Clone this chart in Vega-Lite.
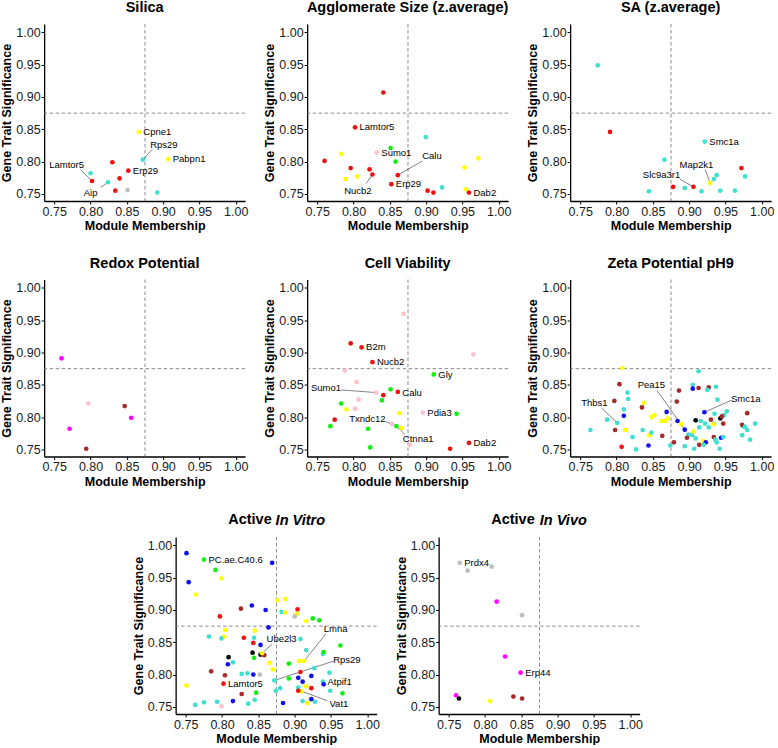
{
"$schema": "https://vega.github.io/schema/vega-lite/v6.json",
"padding": {"left": 0, "top": 0, "right": 0, "bottom": 0},
"datasets": {
"pts": [
{"p":"S","m":"yellow","mm":0.8665,"gs":0.846},{"p":"S","m":"turquoise","mm":0.872,"gs":0.803},{"p":"S","m":"yellow","mm":0.907,"gs":0.804},{"p":"S","m":"red","mm":0.830,"gs":0.799},{"p":"S","m":"red","mm":0.852,"gs":0.786},{"p":"S","m":"turquoise","mm":0.800,"gs":0.782},{"p":"S","m":"red","mm":0.802,"gs":0.770},{"p":"S","m":"red","mm":0.840,"gs":0.774},{"p":"S","m":"turquoise","mm":0.824,"gs":0.768},{"p":"S","m":"red","mm":0.834,"gs":0.755},{"p":"S","m":"grey","mm":0.851,"gs":0.756},{"p":"S","m":"turquoise","mm":0.892,"gs":0.752},
{"p":"A","m":"red","mm":0.841,"gs":0.907},{"p":"A","m":"red","mm":0.802,"gs":0.853},{"p":"A","m":"turquoise","mm":0.8995,"gs":0.838},{"p":"A","m":"green","mm":0.851,"gs":0.821},{"p":"A","m":"pink","mm":0.832,"gs":0.814},{"p":"A","m":"green","mm":0.858,"gs":0.800},{"p":"A","m":"yellow","mm":0.783,"gs":0.812},{"p":"A","m":"red","mm":0.760,"gs":0.801},{"p":"A","m":"red","mm":0.796,"gs":0.790},{"p":"A","m":"red","mm":0.822,"gs":0.788},{"p":"A","m":"red","mm":0.826,"gs":0.780},{"p":"A","m":"yellow","mm":0.789,"gs":0.773},{"p":"A","m":"yellow","mm":0.805,"gs":0.777},{"p":"A","m":"red","mm":0.861,"gs":0.779},{"p":"A","m":"red","mm":0.852,"gs":0.765},{"p":"A","m":"red","mm":0.902,"gs":0.755},{"p":"A","m":"red","mm":0.910,"gs":0.752},{"p":"A","m":"turquoise","mm":0.922,"gs":0.760},{"p":"A","m":"yellow","mm":0.953,"gs":0.791},{"p":"A","m":"yellow","mm":0.972,"gs":0.805},{"p":"A","m":"yellow","mm":0.955,"gs":0.757},{"p":"A","m":"red","mm":0.959,"gs":0.752},
{"p":"SA","m":"turquoise","mm":0.774,"gs":0.949},{"p":"SA","m":"red","mm":0.791,"gs":0.846},{"p":"SA","m":"turquoise","mm":0.9216,"gs":0.831},{"p":"SA","m":"turquoise","mm":0.866,"gs":0.803},{"p":"SA","m":"red","mm":0.972,"gs":0.790},{"p":"SA","m":"turquoise","mm":0.977,"gs":0.777},{"p":"SA","m":"turquoise","mm":0.938,"gs":0.779},{"p":"SA","m":"turquoise","mm":0.934,"gs":0.773},{"p":"SA","m":"yellow","mm":0.929,"gs":0.767},{"p":"SA","m":"red","mm":0.906,"gs":0.761},{"p":"SA","m":"red","mm":0.878,"gs":0.761},{"p":"SA","m":"turquoise","mm":0.894,"gs":0.759},{"p":"SA","m":"turquoise","mm":0.917,"gs":0.754},{"p":"SA","m":"turquoise","mm":0.943,"gs":0.755},{"p":"SA","m":"turquoise","mm":0.963,"gs":0.755},{"p":"SA","m":"turquoise","mm":0.8445,"gs":0.754},
{"p":"R","m":"magenta","mm":0.760,"gs":0.891},{"p":"R","m":"pink","mm":0.797,"gs":0.821},{"p":"R","m":"brown","mm":0.847,"gs":0.817},{"p":"R","m":"magenta","mm":0.856,"gs":0.799},{"p":"R","m":"magenta","mm":0.771,"gs":0.782},{"p":"R","m":"brown","mm":0.794,"gs":0.751},
{"p":"C","m":"pink","mm":0.869,"gs":0.960},{"p":"C","m":"red","mm":0.796,"gs":0.914},{"p":"C","m":"red","mm":0.811,"gs":0.908},{"p":"C","m":"red","mm":0.826,"gs":0.885},{"p":"C","m":"pink","mm":0.965,"gs":0.897},{"p":"C","m":"pink","mm":0.788,"gs":0.872},{"p":"C","m":"green","mm":0.9105,"gs":0.866},{"p":"C","m":"pink","mm":0.804,"gs":0.854},{"p":"C","m":"pink","mm":0.831,"gs":0.838},{"p":"C","m":"red","mm":0.841,"gs":0.834},{"p":"C","m":"green","mm":0.851,"gs":0.843},{"p":"C","m":"red","mm":0.861,"gs":0.839},{"p":"C","m":"green","mm":0.839,"gs":0.826},{"p":"C","m":"pink","mm":0.807,"gs":0.827},{"p":"C","m":"green","mm":0.783,"gs":0.821},{"p":"C","m":"pink","mm":0.802,"gs":0.813},{"p":"C","m":"yellow","mm":0.790,"gs":0.812},{"p":"C","m":"yellow","mm":0.863,"gs":0.806},{"p":"C","m":"pink","mm":0.8955,"gs":0.807},{"p":"C","m":"green","mm":0.942,"gs":0.805},{"p":"C","m":"red","mm":0.774,"gs":0.796},{"p":"C","m":"pink","mm":0.853,"gs":0.789},{"p":"C","m":"yellow","mm":0.866,"gs":0.783},{"p":"C","m":"green","mm":0.859,"gs":0.786},{"p":"C","m":"green","mm":0.768,"gs":0.786},{"p":"C","m":"green","mm":0.820,"gs":0.782},{"p":"C","m":"green","mm":0.823,"gs":0.753},{"p":"C","m":"pink","mm":0.877,"gs":0.757},{"p":"C","m":"red","mm":0.933,"gs":0.751},{"p":"C","m":"red","mm":0.959,"gs":0.760},
{"p":"Z","m":"yellow","mm":0.808,"gs":0.876},{"p":"Z","m":"turquoise","mm":0.913,"gs":0.871},{"p":"Z","m":"brown","mm":0.804,"gs":0.851},{"p":"Z","m":"turquoise","mm":0.905,"gs":0.850},{"p":"Z","m":"blue","mm":0.905,"gs":0.844},{"p":"Z","m":"brown","mm":0.913,"gs":0.845},{"p":"Z","m":"brown","mm":0.927,"gs":0.846},{"p":"Z","m":"turquoise","mm":0.937,"gs":0.847},{"p":"Z","m":"turquoise","mm":0.815,"gs":0.838},{"p":"Z","m":"brown","mm":0.886,"gs":0.841},{"p":"Z","m":"turquoise","mm":0.925,"gs":0.842},{"p":"Z","m":"turquoise","mm":0.816,"gs":0.828},{"p":"Z","m":"brown","mm":0.797,"gs":0.825},{"p":"Z","m":"brown","mm":0.883,"gs":0.824},{"p":"Z","m":"turquoise","mm":0.939,"gs":0.827},{"p":"Z","m":"blue","mm":0.921,"gs":0.8075},{"p":"Z","m":"yellow","mm":0.838,"gs":0.822},{"p":"Z","m":"brown","mm":0.835,"gs":0.815},{"p":"Z","m":"turquoise","mm":0.810,"gs":0.812},{"p":"Z","m":"blue","mm":0.869,"gs":0.808},{"p":"Z","m":"yellow","mm":0.852,"gs":0.803},{"p":"Z","m":"yellow","mm":0.848,"gs":0.800},{"p":"Z","m":"blue","mm":0.810,"gs":0.802},{"p":"Z","m":"yellow","mm":0.870,"gs":0.798},{"p":"Z","m":"yellow","mm":0.867,"gs":0.794},{"p":"Z","m":"yellow","mm":0.862,"gs":0.794},{"p":"Z","m":"turquoise","mm":0.787,"gs":0.796},{"p":"Z","m":"turquoise","mm":0.801,"gs":0.791},{"p":"Z","m":"blue","mm":0.884,"gs":0.794},{"p":"Z","m":"yellow","mm":0.889,"gs":0.789},{"p":"Z","m":"blue","mm":0.894,"gs":0.7806},{"p":"Z","m":"black","mm":0.909,"gs":0.795},{"p":"Z","m":"turquoise","mm":0.916,"gs":0.794},{"p":"Z","m":"brown","mm":0.930,"gs":0.796},{"p":"Z","m":"turquoise","mm":0.935,"gs":0.805},{"p":"Z","m":"turquoise","mm":0.952,"gs":0.809},{"p":"Z","m":"turquoise","mm":0.948,"gs":0.803},{"p":"Z","m":"black","mm":0.943,"gs":0.798},{"p":"Z","m":"brown","mm":0.945,"gs":0.801},{"p":"Z","m":"brown","mm":0.980,"gs":0.806},{"p":"Z","m":"turquoise","mm":0.922,"gs":0.790},{"p":"Z","m":"brown","mm":0.947,"gs":0.790},{"p":"Z","m":"turquoise","mm":0.927,"gs":0.784},{"p":"Z","m":"turquoise","mm":0.9345,"gs":0.790},{"p":"Z","m":"yellow","mm":0.934,"gs":0.789},{"p":"Z","m":"turquoise","mm":0.974,"gs":0.786},{"p":"Z","m":"brown","mm":0.973,"gs":0.788},{"p":"Z","m":"turquoise","mm":0.977,"gs":0.785},{"p":"Z","m":"turquoise","mm":0.991,"gs":0.790},{"p":"Z","m":"turquoise","mm":0.980,"gs":0.780},{"p":"Z","m":"turquoise","mm":0.973,"gs":0.772},{"p":"Z","m":"turquoise","mm":0.984,"gs":0.765},{"p":"Z","m":"turquoise","mm":0.764,"gs":0.780},{"p":"Z","m":"brown","mm":0.798,"gs":0.780},{"p":"Z","m":"yellow","mm":0.812,"gs":0.780},{"p":"Z","m":"turquoise","mm":0.836,"gs":0.780},{"p":"Z","m":"yellow","mm":0.845,"gs":0.772},{"p":"Z","m":"turquoise","mm":0.848,"gs":0.776},{"p":"Z","m":"brown","mm":0.863,"gs":0.771},{"p":"Z","m":"turquoise","mm":0.822,"gs":0.769},{"p":"Z","m":"turquoise","mm":0.914,"gs":0.784},{"p":"Z","m":"turquoise","mm":0.899,"gs":0.773},{"p":"Z","m":"turquoise","mm":0.904,"gs":0.772},{"p":"Z","m":"brown","mm":0.897,"gs":0.768},{"p":"Z","m":"yellow","mm":0.906,"gs":0.778},{"p":"Z","m":"turquoise","mm":0.909,"gs":0.767},{"p":"Z","m":"yellow","mm":0.919,"gs":0.763},{"p":"Z","m":"blue","mm":0.923,"gs":0.761},{"p":"Z","m":"brown","mm":0.914,"gs":0.757},{"p":"Z","m":"turquoise","mm":0.920,"gs":0.757},{"p":"Z","m":"brown","mm":0.934,"gs":0.769},{"p":"Z","m":"turquoise","mm":0.936,"gs":0.765},{"p":"Z","m":"turquoise","mm":0.938,"gs":0.761},{"p":"Z","m":"blue","mm":0.944,"gs":0.768},{"p":"Z","m":"turquoise","mm":0.947,"gs":0.769},{"p":"Z","m":"turquoise","mm":0.942,"gs":0.751},{"p":"Z","m":"turquoise","mm":0.907,"gs":0.751},{"p":"Z","m":"brown","mm":0.879,"gs":0.761},{"p":"Z","m":"turquoise","mm":0.874,"gs":0.756},{"p":"Z","m":"turquoise","mm":0.894,"gs":0.755},{"p":"Z","m":"blue","mm":0.844,"gs":0.756},{"p":"Z","m":"turquoise","mm":0.827,"gs":0.750},{"p":"Z","m":"red","mm":0.807,"gs":0.754},
{"p":"V","m":"blue","mm":0.751,"gs":0.988},{"p":"V","m":"green","mm":0.775,"gs":0.978},{"p":"V","m":"blue","mm":0.869,"gs":0.973},{"p":"V","m":"green","mm":0.791,"gs":0.962},{"p":"V","m":"yellow","mm":0.799,"gs":0.949},{"p":"V","m":"blue","mm":0.754,"gs":0.943},{"p":"V","m":"yellow","mm":0.764,"gs":0.924},{"p":"V","m":"yellow","mm":0.876,"gs":0.915},{"p":"V","m":"yellow","mm":0.887,"gs":0.917},{"p":"V","m":"brown","mm":0.826,"gs":0.902},{"p":"V","m":"blue","mm":0.841,"gs":0.907},{"p":"V","m":"blue","mm":0.860,"gs":0.900},{"p":"V","m":"turquoise","mm":0.882,"gs":0.897},{"p":"V","m":"yellow","mm":0.887,"gs":0.896},{"p":"V","m":"red","mm":0.904,"gs":0.901},{"p":"V","m":"yellow","mm":0.903,"gs":0.894},{"p":"V","m":"grey","mm":0.900,"gs":0.890},{"p":"V","m":"red","mm":0.797,"gs":0.890},{"p":"V","m":"yellow","mm":0.916,"gs":0.883},{"p":"V","m":"green","mm":0.925,"gs":0.887},{"p":"V","m":"green","mm":0.934,"gs":0.884},{"p":"V","m":"blue","mm":0.864,"gs":0.873},{"p":"V","m":"yellow","mm":0.804,"gs":0.869},{"p":"V","m":"yellow","mm":0.845,"gs":0.868},{"p":"V","m":"turquoise","mm":0.782,"gs":0.859},{"p":"V","m":"yellow","mm":0.803,"gs":0.859},{"p":"V","m":"turquoise","mm":0.799,"gs":0.856},{"p":"V","m":"red","mm":0.830,"gs":0.857},{"p":"V","m":"turquoise","mm":0.844,"gs":0.857},{"p":"V","m":"red","mm":0.843,"gs":0.849},{"p":"V","m":"turquoise","mm":0.908,"gs":0.855},{"p":"V","m":"blue","mm":0.853,"gs":0.846},{"p":"V","m":"green","mm":0.963,"gs":0.845},{"p":"V","m":"turquoise","mm":0.916,"gs":0.838},{"p":"V","m":"black","mm":0.842,"gs":0.834},{"p":"V","m":"black","mm":0.809,"gs":0.827},{"p":"V","m":"black","mm":0.853,"gs":0.831},{"p":"V","m":"brown","mm":0.858,"gs":0.830},{"p":"V","m":"green","mm":0.844,"gs":0.826},{"p":"V","m":"yellow","mm":0.855,"gs":0.833},{"p":"V","m":"turquoise","mm":0.939,"gs":0.832},{"p":"V","m":"green","mm":0.940,"gs":0.835},{"p":"V","m":"yellow","mm":0.906,"gs":0.821},{"p":"V","m":"yellow","mm":0.913,"gs":0.821},{"p":"V","m":"turquoise","mm":0.815,"gs":0.819},{"p":"V","m":"blue","mm":0.808,"gs":0.816},{"p":"V","m":"yellow","mm":0.866,"gs":0.818},{"p":"V","m":"green","mm":0.892,"gs":0.817},{"p":"V","m":"yellow","mm":0.870,"gs":0.808},{"p":"V","m":"turquoise","mm":0.927,"gs":0.810},{"p":"V","m":"red","mm":0.908,"gs":0.804},{"p":"V","m":"brown","mm":0.785,"gs":0.805},{"p":"V","m":"brown","mm":0.804,"gs":0.799},{"p":"V","m":"turquoise","mm":0.827,"gs":0.801},{"p":"V","m":"turquoise","mm":0.835,"gs":0.802},{"p":"V","m":"blue","mm":0.843,"gs":0.800},{"p":"V","m":"grey","mm":0.852,"gs":0.800},{"p":"V","m":"blue","mm":0.905,"gs":0.795},{"p":"V","m":"blue","mm":0.923,"gs":0.798},{"p":"V","m":"turquoise","mm":0.948,"gs":0.803},{"p":"V","m":"green","mm":0.892,"gs":0.794},{"p":"V","m":"red","mm":0.802,"gs":0.786},{"p":"V","m":"turquoise","mm":0.872,"gs":0.791},{"p":"V","m":"blue","mm":0.911,"gs":0.789},{"p":"V","m":"turquoise","mm":0.939,"gs":0.789},{"p":"V","m":"blue","mm":0.940,"gs":0.785},{"p":"V","m":"yellow","mm":0.751,"gs":0.783},{"p":"V","m":"turquoise","mm":0.905,"gs":0.780},{"p":"V","m":"yellow","mm":0.916,"gs":0.782},{"p":"V","m":"red","mm":0.923,"gs":0.779},{"p":"V","m":"yellow","mm":0.910,"gs":0.774},{"p":"V","m":"red","mm":0.905,"gs":0.775},{"p":"V","m":"turquoise","mm":0.880,"gs":0.779},{"p":"V","m":"turquoise","mm":0.874,"gs":0.775},{"p":"V","m":"turquoise","mm":0.949,"gs":0.775},{"p":"V","m":"green","mm":0.966,"gs":0.771},{"p":"V","m":"green","mm":0.847,"gs":0.772},{"p":"V","m":"brown","mm":0.827,"gs":0.770},{"p":"V","m":"turquoise","mm":0.911,"gs":0.759},{"p":"V","m":"blue","mm":0.923,"gs":0.762},{"p":"V","m":"turquoise","mm":0.928,"gs":0.758},{"p":"V","m":"yellow","mm":0.917,"gs":0.756},{"p":"V","m":"turquoise","mm":0.845,"gs":0.761},{"p":"V","m":"blue","mm":0.815,"gs":0.759},{"p":"V","m":"turquoise","mm":0.793,"gs":0.758},{"p":"V","m":"turquoise","mm":0.775,"gs":0.757},{"p":"V","m":"turquoise","mm":0.763,"gs":0.753},{"p":"V","m":"pink","mm":0.799,"gs":0.751},{"p":"V","m":"turquoise","mm":0.836,"gs":0.755},{"p":"V","m":"blue","mm":0.884,"gs":0.756},
{"p":"I","m":"grey","mm":0.765,"gs":0.973},{"p":"I","m":"grey","mm":0.776,"gs":0.961},{"p":"I","m":"grey","mm":0.809,"gs":0.967},{"p":"I","m":"magenta","mm":0.816,"gs":0.913},{"p":"I","m":"grey","mm":0.851,"gs":0.892},{"p":"I","m":"magenta","mm":0.8275,"gs":0.828},{"p":"I","m":"magenta","mm":0.849,"gs":0.803},{"p":"I","m":"magenta","mm":0.760,"gs":0.768},{"p":"I","m":"black","mm":0.764,"gs":0.763},{"p":"I","m":"yellow","mm":0.807,"gs":0.759},{"p":"I","m":"brown","mm":0.839,"gs":0.766},{"p":"I","m":"brown","mm":0.851,"gs":0.763}
],
"near": [
{"p":"S","gene":"Cpne1","mm":0.8665,"gs":0.846},{"p":"S","gene":"Pabpn1","mm":0.907,"gs":0.804},{"p":"S","gene":"Erp29","mm":0.852,"gs":0.786},
{"p":"A","gene":"Lamtor5","mm":0.802,"gs":0.853},{"p":"A","gene":"Sumo1","mm":0.832,"gs":0.814},{"p":"A","gene":"Erp29","mm":0.852,"gs":0.765},{"p":"A","gene":"Dab2","mm":0.959,"gs":0.751},
{"p":"SA","gene":"Smc1a","mm":0.9216,"gs":0.830},
{"p":"C","gene":"B2m","mm":0.811,"gs":0.908},{"p":"C","gene":"Nucb2","mm":0.826,"gs":0.885},{"p":"C","gene":"Gly","mm":0.9105,"gs":0.865},{"p":"C","gene":"Calu","mm":0.861,"gs":0.838},{"p":"C","gene":"Pdia3","mm":0.8955,"gs":0.806},{"p":"C","gene":"Dab2","mm":0.959,"gs":0.760},
{"p":"V","gene":"PC.ae.C40.6","mm":0.775,"gs":0.978},{"p":"V","gene":"Lamtor5","mm":0.802,"gs":0.785},{"p":"V","gene":"Atpif1","mm":0.939,"gs":0.789},
{"p":"I","gene":"Prdx4","mm":0.765,"gs":0.972},{"p":"I","gene":"Erp44","mm":0.849,"gs":0.802}
],
"far": [
{"p":"S","gene":"Rps29","mm":0.872,"gs":0.803,"lx":0.901,"ly":0.825,"sx":0.885,"sy":0.819},
{"p":"S","gene":"Lamtor5","mm":0.802,"gs":0.770,"lx":0.767,"ly":0.795,"sx":0.786,"sy":0.788},
{"p":"S","gene":"Aip","mm":0.824,"gs":0.768,"lx":0.800,"ly":0.752,"sx":0.814,"sy":0.760},
{"p":"A","gene":"Nucb2","mm":0.826,"gs":0.780,"lx":0.806,"ly":0.754,"sx":0.8174,"sy":0.766},
{"p":"A","gene":"Calu","mm":0.861,"gs":0.779,"lx":0.908,"ly":0.808,"sx":0.895,"sy":0.801},
{"p":"SA","gene":"Map2k1","mm":0.929,"gs":0.767,"lx":0.910,"ly":0.795,"sx":0.922,"sy":0.788},
{"p":"SA","gene":"Slc9a3r1","mm":0.906,"gs":0.761,"lx":0.862,"ly":0.779,"sx":0.887,"sy":0.773},
{"p":"C","gene":"Sumo1","mm":0.831,"gs":0.838,"lx":0.762,"ly":0.845,"sx":0.783,"sy":0.842},
{"p":"C","gene":"Txndc12","mm":0.853,"gs":0.789,"lx":0.819,"ly":0.797,"sx":0.844,"sy":0.793},
{"p":"C","gene":"Ctnna1","mm":0.859,"gs":0.786,"lx":0.889,"ly":0.766,"sx":0.871,"sy":0.773},
{"p":"Z","gene":"Smc1a","mm":0.921,"gs":0.8075,"lx":0.978,"ly":0.828,"sx":0.958,"sy":0.826},
{"p":"Z","gene":"Thbs1","mm":0.801,"gs":0.791,"lx":0.7695,"ly":0.8225,"sx":0.7795,"sy":0.814},
{"p":"Z","gene":"Pea15","mm":0.894,"gs":0.7806,"lx":0.848,"ly":0.849,"sx":0.856,"sy":0.841},
{"p":"V","gene":"Ube2l3","mm":0.855,"gs":0.833,"lx":0.882,"ly":0.855,"sx":0.869,"sy":0.847},
{"p":"V","gene":"Lmna","mm":0.913,"gs":0.821,"lx":0.9565,"ly":0.870,"sx":0.943,"sy":0.863},
{"p":"V","gene":"Rps29","mm":0.872,"gs":0.791,"lx":0.972,"ly":0.823,"sx":0.954,"sy":0.821},
{"p":"V","gene":"Vat1","mm":0.910,"gs":0.774,"lx":0.961,"ly":0.755,"sx":0.945,"sy":0.7595}
]
},
"center": true,
"spacing": 23.5,
"vconcat": [
{"spacing": 15, "hconcat": [
{"width": 201, "height": 177, "title": "Silica", "layer": [
{"data": {"values": [{}]}, "mark": {"type": "rule", "color": "#707070", "strokeDash": [3.5, 2.5], "strokeWidth": 0.8}, "encoding": {"x": {"datum": 0.875, "type": "quantitative", "scale": {"domain": [0.736, 1.013], "nice": false, "zero": false}, "title": "Module Membership"}}},
{"data": {"values": [{}]}, "mark": {"type": "rule", "color": "#707070", "strokeDash": [3.5, 2.5], "strokeWidth": 0.8}, "encoding": {"y": {"datum": 0.875, "type": "quantitative", "scale": {"domain": [0.739, 1.013], "nice": false, "zero": false}, "title": "Gene Trait Significance"}}},
{"data": {"name": "far"}, "transform": [{"filter": "datum.p === 'S'"}], "mark": {"type": "rule", "color": "#333333", "strokeWidth": 0.6}, "encoding": {"x": {"field": "mm", "type": "quantitative", "scale": {"domain": [0.736, 1.013], "nice": false, "zero": false}, "title": "Module Membership"}, "y": {"field": "gs", "type": "quantitative", "scale": {"domain": [0.739, 1.013], "nice": false, "zero": false}, "title": "Gene Trait Significance"}, "x2": {"field": "sx"}, "y2": {"field": "sy"}}},
{"data": {"name": "pts"}, "transform": [{"filter": "datum.p === 'S'"}], "mark": {"type": "circle"}, "encoding": {"x": {"field": "mm", "type": "quantitative", "scale": {"domain": [0.736, 1.013], "nice": false, "zero": false}, "title": "Module Membership"}, "y": {"field": "gs", "type": "quantitative", "scale": {"domain": [0.739, 1.013], "nice": false, "zero": false}, "title": "Gene Trait Significance"}, "color": {"field": "m", "type": "nominal", "scale": {"domain": ["red","yellow","turquoise","grey","green","pink","magenta","brown","blue","black"], "range": ["#ee1111","#ffff00","#40e0d0","#bebebe","#11ee11","#ffc0cb","#ff00ff","#a52a2a","#1111ee","#000000"]}, "legend": null}}},
{"data": {"name": "near"}, "transform": [{"filter": "datum.p === 'S'"}], "mark": {"type": "text", "align": "left", "baseline": "middle", "dx": 4.5}, "encoding": {"x": {"field": "mm", "type": "quantitative", "scale": {"domain": [0.736, 1.013], "nice": false, "zero": false}, "title": "Module Membership"}, "y": {"field": "gs", "type": "quantitative", "scale": {"domain": [0.739, 1.013], "nice": false, "zero": false}, "title": "Gene Trait Significance"}, "text": {"field": "gene"}}},
{"data": {"name": "far"}, "transform": [{"filter": "datum.p === 'S'"}], "mark": {"type": "text", "align": "center", "baseline": "middle"}, "encoding": {"x": {"field": "lx", "type": "quantitative", "scale": {"domain": [0.736, 1.013], "nice": false, "zero": false}, "title": "Module Membership"}, "y": {"field": "ly", "type": "quantitative", "scale": {"domain": [0.739, 1.013], "nice": false, "zero": false}, "title": "Gene Trait Significance"}, "text": {"field": "gene"}}}
]},
{"width": 201, "height": 177, "title": "Agglomerate Size (z.average)", "layer": [
{"data": {"values": [{}]}, "mark": {"type": "rule", "color": "#707070", "strokeDash": [3.5, 2.5], "strokeWidth": 0.8}, "encoding": {"x": {"datum": 0.875, "type": "quantitative", "scale": {"domain": [0.736, 1.013], "nice": false, "zero": false}, "title": "Module Membership"}}},
{"data": {"values": [{}]}, "mark": {"type": "rule", "color": "#707070", "strokeDash": [3.5, 2.5], "strokeWidth": 0.8}, "encoding": {"y": {"datum": 0.875, "type": "quantitative", "scale": {"domain": [0.739, 1.013], "nice": false, "zero": false}, "title": "Gene Trait Significance"}}},
{"data": {"name": "far"}, "transform": [{"filter": "datum.p === 'A'"}], "mark": {"type": "rule", "color": "#333333", "strokeWidth": 0.6}, "encoding": {"x": {"field": "mm", "type": "quantitative", "scale": {"domain": [0.736, 1.013], "nice": false, "zero": false}, "title": "Module Membership"}, "y": {"field": "gs", "type": "quantitative", "scale": {"domain": [0.739, 1.013], "nice": false, "zero": false}, "title": "Gene Trait Significance"}, "x2": {"field": "sx"}, "y2": {"field": "sy"}}},
{"data": {"name": "pts"}, "transform": [{"filter": "datum.p === 'A'"}], "mark": {"type": "circle"}, "encoding": {"x": {"field": "mm", "type": "quantitative", "scale": {"domain": [0.736, 1.013], "nice": false, "zero": false}, "title": "Module Membership"}, "y": {"field": "gs", "type": "quantitative", "scale": {"domain": [0.739, 1.013], "nice": false, "zero": false}, "title": "Gene Trait Significance"}, "color": {"field": "m", "type": "nominal", "scale": {"domain": ["red","yellow","turquoise","grey","green","pink","magenta","brown","blue","black"], "range": ["#ee1111","#ffff00","#40e0d0","#bebebe","#11ee11","#ffc0cb","#ff00ff","#a52a2a","#1111ee","#000000"]}, "legend": null}}},
{"data": {"name": "near"}, "transform": [{"filter": "datum.p === 'A'"}], "mark": {"type": "text", "align": "left", "baseline": "middle", "dx": 4.5}, "encoding": {"x": {"field": "mm", "type": "quantitative", "scale": {"domain": [0.736, 1.013], "nice": false, "zero": false}, "title": "Module Membership"}, "y": {"field": "gs", "type": "quantitative", "scale": {"domain": [0.739, 1.013], "nice": false, "zero": false}, "title": "Gene Trait Significance"}, "text": {"field": "gene"}}},
{"data": {"name": "far"}, "transform": [{"filter": "datum.p === 'A'"}], "mark": {"type": "text", "align": "center", "baseline": "middle"}, "encoding": {"x": {"field": "lx", "type": "quantitative", "scale": {"domain": [0.736, 1.013], "nice": false, "zero": false}, "title": "Module Membership"}, "y": {"field": "ly", "type": "quantitative", "scale": {"domain": [0.739, 1.013], "nice": false, "zero": false}, "title": "Gene Trait Significance"}, "text": {"field": "gene"}}}
]},
{"width": 201, "height": 177, "title": "SA (z.average)", "layer": [
{"data": {"values": [{}]}, "mark": {"type": "rule", "color": "#707070", "strokeDash": [3.5, 2.5], "strokeWidth": 0.8}, "encoding": {"x": {"datum": 0.875, "type": "quantitative", "scale": {"domain": [0.736, 1.013], "nice": false, "zero": false}, "title": "Module Membership"}}},
{"data": {"values": [{}]}, "mark": {"type": "rule", "color": "#707070", "strokeDash": [3.5, 2.5], "strokeWidth": 0.8}, "encoding": {"y": {"datum": 0.875, "type": "quantitative", "scale": {"domain": [0.739, 1.013], "nice": false, "zero": false}, "title": "Gene Trait Significance"}}},
{"data": {"name": "far"}, "transform": [{"filter": "datum.p === 'SA'"}], "mark": {"type": "rule", "color": "#333333", "strokeWidth": 0.6}, "encoding": {"x": {"field": "mm", "type": "quantitative", "scale": {"domain": [0.736, 1.013], "nice": false, "zero": false}, "title": "Module Membership"}, "y": {"field": "gs", "type": "quantitative", "scale": {"domain": [0.739, 1.013], "nice": false, "zero": false}, "title": "Gene Trait Significance"}, "x2": {"field": "sx"}, "y2": {"field": "sy"}}},
{"data": {"name": "pts"}, "transform": [{"filter": "datum.p === 'SA'"}], "mark": {"type": "circle"}, "encoding": {"x": {"field": "mm", "type": "quantitative", "scale": {"domain": [0.736, 1.013], "nice": false, "zero": false}, "title": "Module Membership"}, "y": {"field": "gs", "type": "quantitative", "scale": {"domain": [0.739, 1.013], "nice": false, "zero": false}, "title": "Gene Trait Significance"}, "color": {"field": "m", "type": "nominal", "scale": {"domain": ["red","yellow","turquoise","grey","green","pink","magenta","brown","blue","black"], "range": ["#ee1111","#ffff00","#40e0d0","#bebebe","#11ee11","#ffc0cb","#ff00ff","#a52a2a","#1111ee","#000000"]}, "legend": null}}},
{"data": {"name": "near"}, "transform": [{"filter": "datum.p === 'SA'"}], "mark": {"type": "text", "align": "left", "baseline": "middle", "dx": 4.5}, "encoding": {"x": {"field": "mm", "type": "quantitative", "scale": {"domain": [0.736, 1.013], "nice": false, "zero": false}, "title": "Module Membership"}, "y": {"field": "gs", "type": "quantitative", "scale": {"domain": [0.739, 1.013], "nice": false, "zero": false}, "title": "Gene Trait Significance"}, "text": {"field": "gene"}}},
{"data": {"name": "far"}, "transform": [{"filter": "datum.p === 'SA'"}], "mark": {"type": "text", "align": "center", "baseline": "middle"}, "encoding": {"x": {"field": "lx", "type": "quantitative", "scale": {"domain": [0.736, 1.013], "nice": false, "zero": false}, "title": "Module Membership"}, "y": {"field": "ly", "type": "quantitative", "scale": {"domain": [0.739, 1.013], "nice": false, "zero": false}, "title": "Gene Trait Significance"}, "text": {"field": "gene"}}}
]}
]},
{"spacing": 15, "hconcat": [
{"width": 201, "height": 177, "title": "Redox Potential", "layer": [
{"data": {"values": [{}]}, "mark": {"type": "rule", "color": "#707070", "strokeDash": [3.5, 2.5], "strokeWidth": 0.8}, "encoding": {"x": {"datum": 0.875, "type": "quantitative", "scale": {"domain": [0.736, 1.013], "nice": false, "zero": false}, "title": "Module Membership"}}},
{"data": {"values": [{}]}, "mark": {"type": "rule", "color": "#707070", "strokeDash": [3.5, 2.5], "strokeWidth": 0.8}, "encoding": {"y": {"datum": 0.875, "type": "quantitative", "scale": {"domain": [0.739, 1.013], "nice": false, "zero": false}, "title": "Gene Trait Significance"}}},
{"data": {"name": "pts"}, "transform": [{"filter": "datum.p === 'R'"}], "mark": {"type": "circle"}, "encoding": {"x": {"field": "mm", "type": "quantitative", "scale": {"domain": [0.736, 1.013], "nice": false, "zero": false}, "title": "Module Membership"}, "y": {"field": "gs", "type": "quantitative", "scale": {"domain": [0.739, 1.013], "nice": false, "zero": false}, "title": "Gene Trait Significance"}, "color": {"field": "m", "type": "nominal", "scale": {"domain": ["red","yellow","turquoise","grey","green","pink","magenta","brown","blue","black"], "range": ["#ee1111","#ffff00","#40e0d0","#bebebe","#11ee11","#ffc0cb","#ff00ff","#a52a2a","#1111ee","#000000"]}, "legend": null}}}
]},
{"width": 201, "height": 177, "title": "Cell Viability", "layer": [
{"data": {"values": [{}]}, "mark": {"type": "rule", "color": "#707070", "strokeDash": [3.5, 2.5], "strokeWidth": 0.8}, "encoding": {"x": {"datum": 0.875, "type": "quantitative", "scale": {"domain": [0.736, 1.013], "nice": false, "zero": false}, "title": "Module Membership"}}},
{"data": {"values": [{}]}, "mark": {"type": "rule", "color": "#707070", "strokeDash": [3.5, 2.5], "strokeWidth": 0.8}, "encoding": {"y": {"datum": 0.875, "type": "quantitative", "scale": {"domain": [0.739, 1.013], "nice": false, "zero": false}, "title": "Gene Trait Significance"}}},
{"data": {"name": "far"}, "transform": [{"filter": "datum.p === 'C'"}], "mark": {"type": "rule", "color": "#333333", "strokeWidth": 0.6}, "encoding": {"x": {"field": "mm", "type": "quantitative", "scale": {"domain": [0.736, 1.013], "nice": false, "zero": false}, "title": "Module Membership"}, "y": {"field": "gs", "type": "quantitative", "scale": {"domain": [0.739, 1.013], "nice": false, "zero": false}, "title": "Gene Trait Significance"}, "x2": {"field": "sx"}, "y2": {"field": "sy"}}},
{"data": {"name": "pts"}, "transform": [{"filter": "datum.p === 'C'"}], "mark": {"type": "circle"}, "encoding": {"x": {"field": "mm", "type": "quantitative", "scale": {"domain": [0.736, 1.013], "nice": false, "zero": false}, "title": "Module Membership"}, "y": {"field": "gs", "type": "quantitative", "scale": {"domain": [0.739, 1.013], "nice": false, "zero": false}, "title": "Gene Trait Significance"}, "color": {"field": "m", "type": "nominal", "scale": {"domain": ["red","yellow","turquoise","grey","green","pink","magenta","brown","blue","black"], "range": ["#ee1111","#ffff00","#40e0d0","#bebebe","#11ee11","#ffc0cb","#ff00ff","#a52a2a","#1111ee","#000000"]}, "legend": null}}},
{"data": {"name": "near"}, "transform": [{"filter": "datum.p === 'C'"}], "mark": {"type": "text", "align": "left", "baseline": "middle", "dx": 4.5}, "encoding": {"x": {"field": "mm", "type": "quantitative", "scale": {"domain": [0.736, 1.013], "nice": false, "zero": false}, "title": "Module Membership"}, "y": {"field": "gs", "type": "quantitative", "scale": {"domain": [0.739, 1.013], "nice": false, "zero": false}, "title": "Gene Trait Significance"}, "text": {"field": "gene"}}},
{"data": {"name": "far"}, "transform": [{"filter": "datum.p === 'C'"}], "mark": {"type": "text", "align": "center", "baseline": "middle"}, "encoding": {"x": {"field": "lx", "type": "quantitative", "scale": {"domain": [0.736, 1.013], "nice": false, "zero": false}, "title": "Module Membership"}, "y": {"field": "ly", "type": "quantitative", "scale": {"domain": [0.739, 1.013], "nice": false, "zero": false}, "title": "Gene Trait Significance"}, "text": {"field": "gene"}}}
]},
{"width": 201, "height": 177, "title": "Zeta Potential pH9", "layer": [
{"data": {"values": [{}]}, "mark": {"type": "rule", "color": "#707070", "strokeDash": [3.5, 2.5], "strokeWidth": 0.8}, "encoding": {"x": {"datum": 0.875, "type": "quantitative", "scale": {"domain": [0.736, 1.013], "nice": false, "zero": false}, "title": "Module Membership"}}},
{"data": {"values": [{}]}, "mark": {"type": "rule", "color": "#707070", "strokeDash": [3.5, 2.5], "strokeWidth": 0.8}, "encoding": {"y": {"datum": 0.875, "type": "quantitative", "scale": {"domain": [0.739, 1.013], "nice": false, "zero": false}, "title": "Gene Trait Significance"}}},
{"data": {"name": "far"}, "transform": [{"filter": "datum.p === 'Z'"}], "mark": {"type": "rule", "color": "#333333", "strokeWidth": 0.6}, "encoding": {"x": {"field": "mm", "type": "quantitative", "scale": {"domain": [0.736, 1.013], "nice": false, "zero": false}, "title": "Module Membership"}, "y": {"field": "gs", "type": "quantitative", "scale": {"domain": [0.739, 1.013], "nice": false, "zero": false}, "title": "Gene Trait Significance"}, "x2": {"field": "sx"}, "y2": {"field": "sy"}}},
{"data": {"name": "pts"}, "transform": [{"filter": "datum.p === 'Z'"}], "mark": {"type": "circle"}, "encoding": {"x": {"field": "mm", "type": "quantitative", "scale": {"domain": [0.736, 1.013], "nice": false, "zero": false}, "title": "Module Membership"}, "y": {"field": "gs", "type": "quantitative", "scale": {"domain": [0.739, 1.013], "nice": false, "zero": false}, "title": "Gene Trait Significance"}, "color": {"field": "m", "type": "nominal", "scale": {"domain": ["red","yellow","turquoise","grey","green","pink","magenta","brown","blue","black"], "range": ["#ee1111","#ffff00","#40e0d0","#bebebe","#11ee11","#ffc0cb","#ff00ff","#a52a2a","#1111ee","#000000"]}, "legend": null}}},
{"data": {"name": "far"}, "transform": [{"filter": "datum.p === 'Z'"}], "mark": {"type": "text", "align": "center", "baseline": "middle"}, "encoding": {"x": {"field": "lx", "type": "quantitative", "scale": {"domain": [0.736, 1.013], "nice": false, "zero": false}, "title": "Module Membership"}, "y": {"field": "ly", "type": "quantitative", "scale": {"domain": [0.739, 1.013], "nice": false, "zero": false}, "title": "Gene Trait Significance"}, "text": {"field": "gene"}}}
]}
]},
{"spacing": 15, "hconcat": [
{"width": 201, "height": 177, "title": {"text": "Active\u00a0\u00a0\u00a0\u00a0\u00a0\u00a0\u00a0\u00a0\u00a0\u00a0\u00a0\u00a0\u00a0\u200b", "subtitle": "\u200b\u00a0\u00a0\u00a0\u00a0\u00a0\u00a0\u00a0\u00a0\u00a0\u00a0\u00a0\u00a0In Vitro", "subtitleFont": "Liberation Sans", "subtitleFontSize": 14.5, "subtitleFontWeight": "bold", "subtitleFontStyle": "italic", "subtitleColor": "#000000", "subtitlePadding": -13}, "layer": [
{"data": {"values": [{}]}, "mark": {"type": "rule", "color": "#707070", "strokeDash": [3.5, 2.5], "strokeWidth": 0.8}, "encoding": {"x": {"datum": 0.875, "type": "quantitative", "scale": {"domain": [0.736, 1.013], "nice": false, "zero": false}, "title": "Module Membership"}}},
{"data": {"values": [{}]}, "mark": {"type": "rule", "color": "#707070", "strokeDash": [3.5, 2.5], "strokeWidth": 0.8}, "encoding": {"y": {"datum": 0.875, "type": "quantitative", "scale": {"domain": [0.739, 1.013], "nice": false, "zero": false}, "title": "Gene Trait Significance"}}},
{"data": {"name": "far"}, "transform": [{"filter": "datum.p === 'V'"}], "mark": {"type": "rule", "color": "#333333", "strokeWidth": 0.6}, "encoding": {"x": {"field": "mm", "type": "quantitative", "scale": {"domain": [0.736, 1.013], "nice": false, "zero": false}, "title": "Module Membership"}, "y": {"field": "gs", "type": "quantitative", "scale": {"domain": [0.739, 1.013], "nice": false, "zero": false}, "title": "Gene Trait Significance"}, "x2": {"field": "sx"}, "y2": {"field": "sy"}}},
{"data": {"name": "pts"}, "transform": [{"filter": "datum.p === 'V'"}], "mark": {"type": "circle"}, "encoding": {"x": {"field": "mm", "type": "quantitative", "scale": {"domain": [0.736, 1.013], "nice": false, "zero": false}, "title": "Module Membership"}, "y": {"field": "gs", "type": "quantitative", "scale": {"domain": [0.739, 1.013], "nice": false, "zero": false}, "title": "Gene Trait Significance"}, "color": {"field": "m", "type": "nominal", "scale": {"domain": ["red","yellow","turquoise","grey","green","pink","magenta","brown","blue","black"], "range": ["#ee1111","#ffff00","#40e0d0","#bebebe","#11ee11","#ffc0cb","#ff00ff","#a52a2a","#1111ee","#000000"]}, "legend": null}}},
{"data": {"name": "near"}, "transform": [{"filter": "datum.p === 'V'"}], "mark": {"type": "text", "align": "left", "baseline": "middle", "dx": 4.5}, "encoding": {"x": {"field": "mm", "type": "quantitative", "scale": {"domain": [0.736, 1.013], "nice": false, "zero": false}, "title": "Module Membership"}, "y": {"field": "gs", "type": "quantitative", "scale": {"domain": [0.739, 1.013], "nice": false, "zero": false}, "title": "Gene Trait Significance"}, "text": {"field": "gene"}}},
{"data": {"name": "far"}, "transform": [{"filter": "datum.p === 'V'"}], "mark": {"type": "text", "align": "center", "baseline": "middle"}, "encoding": {"x": {"field": "lx", "type": "quantitative", "scale": {"domain": [0.736, 1.013], "nice": false, "zero": false}, "title": "Module Membership"}, "y": {"field": "ly", "type": "quantitative", "scale": {"domain": [0.739, 1.013], "nice": false, "zero": false}, "title": "Gene Trait Significance"}, "text": {"field": "gene"}}}
]},
{"width": 201, "height": 177, "title": {"text": "Active\u00a0\u00a0\u00a0\u00a0\u00a0\u00a0\u00a0\u00a0\u00a0\u00a0\u00a0\u00a0\u00a0\u200b", "subtitle": "\u200b\u00a0\u00a0\u00a0\u00a0\u00a0\u00a0\u00a0\u00a0\u00a0\u00a0\u00a0\u00a0In Vivo", "subtitleFont": "Liberation Sans", "subtitleFontSize": 14.5, "subtitleFontWeight": "bold", "subtitleFontStyle": "italic", "subtitleColor": "#000000", "subtitlePadding": -13}, "layer": [
{"data": {"values": [{}]}, "mark": {"type": "rule", "color": "#707070", "strokeDash": [3.5, 2.5], "strokeWidth": 0.8}, "encoding": {"x": {"datum": 0.875, "type": "quantitative", "scale": {"domain": [0.736, 1.013], "nice": false, "zero": false}, "title": "Module Membership"}}},
{"data": {"values": [{}]}, "mark": {"type": "rule", "color": "#707070", "strokeDash": [3.5, 2.5], "strokeWidth": 0.8}, "encoding": {"y": {"datum": 0.875, "type": "quantitative", "scale": {"domain": [0.739, 1.013], "nice": false, "zero": false}, "title": "Gene Trait Significance"}}},
{"data": {"name": "pts"}, "transform": [{"filter": "datum.p === 'I'"}], "mark": {"type": "circle"}, "encoding": {"x": {"field": "mm", "type": "quantitative", "scale": {"domain": [0.736, 1.013], "nice": false, "zero": false}, "title": "Module Membership"}, "y": {"field": "gs", "type": "quantitative", "scale": {"domain": [0.739, 1.013], "nice": false, "zero": false}, "title": "Gene Trait Significance"}, "color": {"field": "m", "type": "nominal", "scale": {"domain": ["red","yellow","turquoise","grey","green","pink","magenta","brown","blue","black"], "range": ["#ee1111","#ffff00","#40e0d0","#bebebe","#11ee11","#ffc0cb","#ff00ff","#a52a2a","#1111ee","#000000"]}, "legend": null}}},
{"data": {"name": "near"}, "transform": [{"filter": "datum.p === 'I'"}], "mark": {"type": "text", "align": "left", "baseline": "middle", "dx": 4.5}, "encoding": {"x": {"field": "mm", "type": "quantitative", "scale": {"domain": [0.736, 1.013], "nice": false, "zero": false}, "title": "Module Membership"}, "y": {"field": "gs", "type": "quantitative", "scale": {"domain": [0.739, 1.013], "nice": false, "zero": false}, "title": "Gene Trait Significance"}, "text": {"field": "gene"}}}
]}
]}
],
"config": {
"font": "Liberation Sans",
"view": {"stroke": null},
"axis": {"grid": false, "domainColor": "#000000", "domainWidth": 1.3, "tickColor": "#000000", "tickSize": 3, "tickWidth": 1, "labelColor": "#1a1a1a", "labelFontSize": 12.5, "labelFont": "Liberation Sans", "titleFont": "Liberation Sans", "titleFontSize": 12.5, "titleFontWeight": "bold", "titleColor": "#000000", "labelPadding": 1, "titlePadding": 2, "tickCount": 6, "labelFlush": false, "labelOverlap": false},
"title": {"font": "Liberation Sans", "fontSize": 14.5, "fontWeight": "bold", "color": "#000000", "offset": 8, "anchor": "middle", "frame": "group"},
"text": {"font": "Liberation Sans", "fontSize": 9.5, "color": "#000000"},
"circle": {"size": 22, "opacity": 1}
}
}
